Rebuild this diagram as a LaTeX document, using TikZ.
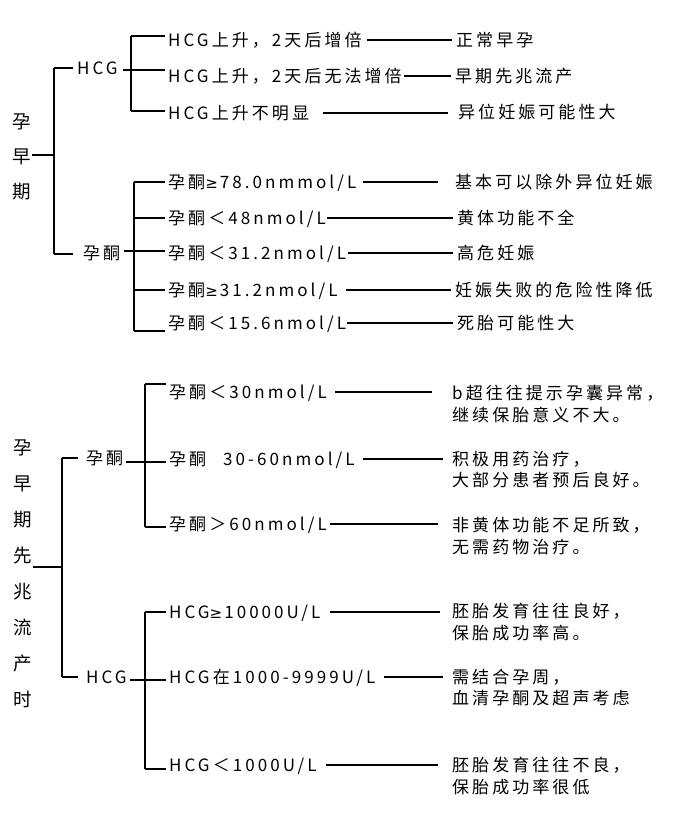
\documentclass[tikz,border=0pt]{standalone}
\usepackage{fontspec}
\setmainfont{Noto Sans CJK SC}[LetterSpace=18]
\newfontfamily\symf{DejaVu Sans}
\newcommand\myge{{\symf\fontsize{15}{20}\selectfont ≥}\hspace{2pt}}
\newcommand\fs{\fontsize{17}{20}\selectfont}
\begin{document}
\begin{tikzpicture}[x=1pt,y=-1pt,
 lbl/.style={anchor=west,inner sep=0pt,font=\fs,text height=14pt,text depth=1pt},
 ln/.style={line width=1.3pt},
 thk/.style={line width=2.2pt},
 vlbl/.style={inner sep=0pt,align=center}]
\useasboundingbox (0,0) rectangle (679,820);
\fill[white] (0,0) rectangle (679,820);

% ===== top section =====
\node[vlbl,font=\fontsize{18.5}{35}\selectfont] (v1) at (22,157) {孕\\早\\期};
\coordinate (b1m) at (54,155);
\coordinate (b1t) at (54,68);
\coordinate (b1b) at (54,254);
\node[lbl] (hcgA) at (77,68) {HCG};
\node[lbl] (pA) at (83,253) {孕酮};
\draw[ln] ([xshift=1pt]v1.east |- b1m) -- (b1m);
\draw[ln] (b1t) -- (b1b);
\draw[ln] (b1t) -- ([xshift=-4pt]hcgA.west |- b1t);
\draw[ln] (b1b) -- ([xshift=-10pt]pA.west |- b1b);

% HCG branch
\coordinate (b2t) at (131,36);
\coordinate (b2m) at (131,70);
\coordinate (b2b) at (131,111);
\node[lbl] (h1) at (168,40) {HCG上升，2天后增倍};
\node[lbl] (h2) at (168,76) {HCG上升，2天后无法增倍};
\node[lbl] (h3) at (168,113) {HCG上升不明显};
\draw[ln] ([xshift=5pt]hcgA.east |- b2m) -- ([xshift=-3pt]h2.west |- b2m);
\draw[ln] (b2t) -- (b2b);
\draw[ln] (b2t) -- ([xshift=-3pt]h1.west |- b2t);
\draw[ln] (b2b) -- ([xshift=-3pt]h3.west |- b2b);
\node[lbl] (r1) at (456,40) {正常早孕};
\node[lbl] (r2) at (455,76) {早期先兆流产};
\node[lbl] (r3) at (458,112) {异位妊娠可能性大};
\draw[ln] ([xshift=5pt]h1.east) -- ([xshift=-4pt]r1.west |- h1.east);
\draw[ln] ([xshift=2pt]h2.east) -- ([xshift=-4pt]r2.west |- h2.east);
\draw[ln] ([xshift=14pt]h3.east) -- ([xshift=-10pt]r3.west |- h3.east);

% progesterone branch
\coordinate (b3t) at (134,182);
\coordinate (b3c) at (134,218);
\coordinate (b3m) at (134,251);
\coordinate (b3d) at (134,290);
\coordinate (b3b) at (134,331);
\node[lbl] (p1) at (168,182) {孕酮\myge78.0nmmol/L};
\node[lbl] (p2) at (168,218) {孕酮＜48nmol/L};
\node[lbl] (p3) at (168,253) {孕酮＜31.2nmol/L};
\node[lbl] (p4) at (168,290) {孕酮\myge31.2nmol/L};
\node[lbl] (p5) at (168,323) {孕酮＜15.6nmol/L};
\draw[thk] (b3t) -- (b3b);
\draw[thk] (b3t) -- ([xshift=-3pt]p1.west |- b3t);
\draw[ln] (b3c) -- ([xshift=-3pt]p2.west |- b3c);
\draw[thk] ([xshift=4pt]pA.east |- b3m) -- ([xshift=-3pt]p3.west |- b3m);
\draw[ln] (b3d) -- ([xshift=-3pt]p4.west |- b3d);
\draw[thk] (b3b) -- ([xshift=-3pt]p5.west |- b3b);
\node[lbl] (q1) at (455,182) {基本可以除外异位妊娠};
\node[lbl] (q2) at (457,218) {黄体功能不全};
\node[lbl] (q3) at (457,253) {高危妊娠};
\node[lbl] (q4) at (455,290) {妊娠失败的危险性降低};
\node[lbl] (q5) at (457,323) {死胎可能性大};
\draw[ln] ([xshift=6pt]p1.east) -- ([xshift=-17pt]q1.west);
\draw[ln] ([xshift=1pt]p2.east) -- ([xshift=-4pt]q2.west);
\draw[ln] ([xshift=2pt]p3.east) -- ([xshift=-4pt]q3.west);
\draw[ln] ([xshift=8pt]p4.east) -- ([xshift=-4pt]q4.west);
\draw[ln] ([xshift=1pt]p5.east) -- ([xshift=-4pt]q5.west);

% ===== bottom section =====
\node[vlbl,font=\fontsize{18.5}{36}\selectfont] (v2) at (23,574) {孕\\早\\期\\先\\兆\\流\\产\\时};
\coordinate (c1m) at (62,567);
\coordinate (c1t) at (62,458);
\coordinate (c1b) at (62,677);
\node[lbl] (pB) at (86,458) {孕酮};
\node[lbl] (hB) at (86,677) {HCG};
\draw[ln] ([xshift=1pt]v2.east |- c1m) -- (c1m);
\draw[ln] (c1t) -- (c1b);
\draw[ln] (c1t) -- ([xshift=-8pt]pB.west |- c1t);
\draw[ln] (c1b) -- ([xshift=-8pt]hB.west |- c1b);

% progesterone sub-branch
\coordinate (c2t) at (145,384);
\coordinate (c2m) at (145,462);
\coordinate (c2b) at (145,527);
\node[lbl] (s1) at (169,392) {孕酮＜30nmol/L};
\node[lbl] (s2) at (169,459) {孕酮\hspace{17pt}30-60nmol/L};
\node[lbl] (s3) at (169,524) {孕酮＞60nmol/L};
\draw[ln] (c2t) -- (c2b);
\draw[ln] (c2t) -- ([xshift=-3pt]s1.west |- c2t);
\draw[ln] ([xshift=3pt]pB.east |- c2m) -- ([xshift=-3pt]s2.west |- c2m);
\draw[ln] (c2b) -- ([xshift=-3pt]s3.west |- c2b);
\node[lbl] (t1a) at (452,393) {b超往往提示孕囊异常，};
\node[lbl] (t1b) at (452,415) {继续保胎意义不大。};
\node[lbl] (t2a) at (452,459) {积极用药治疗，};
\node[lbl] (t2b) at (452,480) {大部分患者预后良好。};
\node[lbl] (t3a) at (452,525) {非黄体功能不足所致，};
\node[lbl] (t3b) at (452,547) {无需药物治疗。};
\draw[ln] ([xshift=8pt]s1.east) -- ([xshift=-20pt]t1a.west |- s1.east);
\draw[ln] ([xshift=8pt]s2.east) -- ([xshift=-9pt]t2a.west |- s2.east);
\draw[ln] ([xshift=3pt]s3.east) -- ([xshift=-14pt]t3a.west |- s3.east);

% HCG sub-branch
\coordinate (c3t) at (145,612);
\coordinate (c3m) at (145,680);
\coordinate (c3b) at (145,769);
\node[lbl] (u1) at (169,612) {HCG\myge10000U/L};
\node[lbl] (u2) at (169,677) {HCG在1000-9999U/L};
\node[lbl] (u3) at (169,765) {HCG＜1000U/L};
\draw[ln] (c3t) -- (c3b);
\draw[ln] (c3t) -- ([xshift=-3pt]u1.west |- c3t);
\draw[ln] ([xshift=3pt]hB.east |- c3m) -- ([xshift=-3pt]u2.west |- c3m);
\draw[ln] (c3b) -- ([xshift=-3pt]u3.west |- c3b);
\node[lbl] (w1a) at (452,611) {胚胎发育往往良好，};
\node[lbl] (w1b) at (452,633) {保胎成功率高。};
\node[lbl] (w2a) at (452,677) {需结合孕周，};
\node[lbl] (w2b) at (452,698) {血清孕酮及超声考虑};
\node[lbl] (w3a) at (452,765) {胚胎发育往往不良，};
\node[lbl] (w3b) at (452,787) {保胎成功率很低};
\draw[ln] ([xshift=9pt]u1.east) -- ([xshift=-12pt]w1a.west |- u1.east);
\draw[ln] ([xshift=8pt]u2.east) -- ([xshift=-9pt]w2a.west |- u2.east);
\draw[ln] ([xshift=9pt]u3.east) -- ([xshift=-14pt]w3a.west |- u3.east);
\end{tikzpicture}
\end{document}
